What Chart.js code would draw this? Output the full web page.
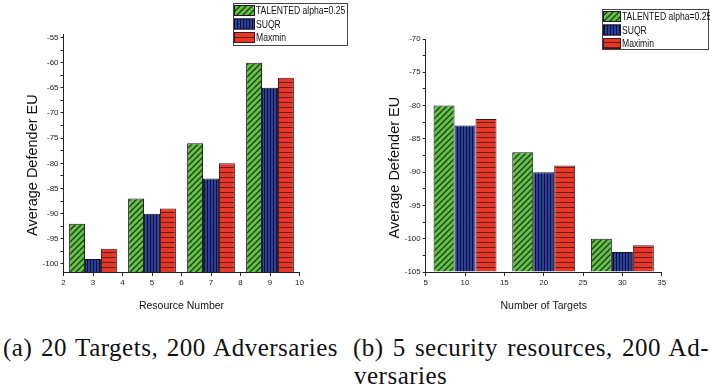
<!DOCTYPE html>
<html>
<head>
<meta charset="utf-8">
<script src="https://cdn.jsdelivr.net/npm/chart.js@4.4.0/dist/chart.umd.min.js"></script>
<style>
  body { margin: 0; background: #fff; width: 710px; height: 392px; overflow: hidden; position: relative; }
  canvas { position: absolute; top: 0; }
  #chartA { left: 0; }
  #chartB { left: 355px; }
  .cap { position: absolute; font-family: "Liberation Serif", serif; font-size: 25px; line-height: 28px; color: #111;
         letter-spacing: 0.5px; text-align: justify; text-align-last: justify; }
</style>
</head>
<body>
<canvas id="chartA" width="355" height="315"></canvas>
<canvas id="chartB" width="355" height="315"></canvas>
<div class="cap" style="left:3px; top:334px; width:335px;">(a) 20 Targets, 200 Adversaries</div>
<div class="cap" style="left:353px; top:334px; width:356px;">(b) 5 security resources, 200 Ad-</div>
<div class="cap" style="left:354px; top:362px; text-align-last:left;">versaries</div>

<script>
// series labels
const labelsA = ['TALENTED alpha=0.25', 'SUQR', 'Maxmin'];
const labelsB = ['TALENTED alpha=0.25', 'SUQR', 'Maximin'];

// (a) 20 targets, x = resource number
const resourceNumbers = [3, 5, 7, 9];
const talentedA = [-92, -87, -76, -60];
const suqrA = [-99, -90, -83, -65];
const maxminA = [-97, -89, -80, -63];

// (b) 5 resources, x = number of targets
const targetCounts = [10, 20, 30];
const talentedB = [-80, -87, -100];
const suqrB = [-83, -90, -102];
const maxminB = [-82, -89, -101];

// axis ranges
const yRangeA = [-101.6, -54.3];
const yRangeB = [-105, -70];
const xRangeA = [2, 10];
const xRangeB = [5, 35];

// narrow font check (falls back to regular sans at a smaller size)
function hasFont(name) {
  const c = document.createElement('canvas').getContext('2d');
  const s = 'Resource Number 0.25';
  c.font = '20px monospace';
  const a = c.measureText(s).width;
  c.font = '20px "' + name + '", monospace';
  return c.measureText(s).width !== a;
}
const narrowOk = hasFont('Liberation Sans Narrow');
const NARROW = narrowOk ? '"Liberation Sans Narrow"' : '"Liberation Sans"';
const k = narrowOk ? 1 : 0.84;

// hatch patterns
function hatch(bg, ink, kind) {
  const t = document.createElement('canvas');
  const n = kind === 'diag' ? 6 : kind === 'vert' ? 3 : 5;
  t.width = n; t.height = n;
  const g = t.getContext('2d');
  g.fillStyle = bg;
  g.fillRect(0, 0, n, n);
  g.strokeStyle = ink;
  g.lineWidth = kind === 'diag' ? 1.3 : 1;
  g.beginPath();
  if (kind === 'diag') {
    g.moveTo(-1, n + 1); g.lineTo(n + 1, -1);
    g.moveTo(-1, 1); g.lineTo(1, -1);
    g.moveTo(n - 1, n + 1); g.lineTo(n + 1, n - 1);
  } else if (kind === 'vert') {
    g.moveTo(0.5, 0); g.lineTo(0.5, n);
  } else {
    g.moveTo(0, 2.5); g.lineTo(n, 2.5);
  }
  g.stroke();
  return g.createPattern(t, 'repeat');
}
const greenFill = hatch('#62c248', '#1f3a14', 'diag');
const blueFill = hatch('#2d3f9e', '#0b1030', 'vert');
const redFill = hatch('#e5382b', '#6b1c12', 'horiz');

// legend with a frame, drawn above the plot
const boxLegend = {
  id: 'boxLegend',
  afterDraw(chart, args, o) {
    const ctx = chart.ctx;
    ctx.save();
    ctx.fillStyle = '#fff';
    ctx.fillRect(o.x, o.y, o.w, o.h);
    ctx.strokeStyle = '#444';
    ctx.lineWidth = 1;
    ctx.strokeRect(o.x + 0.5, o.y + 0.5, o.w - 1, o.h - 1);
    chart.data.datasets.forEach((ds, i) => {
      const cy = o.y + 7.5 + i * 13.5;
      ctx.fillStyle = ds.backgroundColor;
      ctx.fillRect(o.x + 1, cy - 5.5, o.sw, 11);
      ctx.strokeStyle = ds.borderColor;
      ctx.strokeRect(o.x + 1.5, cy - 5, o.sw - 1, 10);
      // squeezed text to look like the narrow face of the original
      ctx.save();
      ctx.translate(o.x + o.sw + o.gap, cy + 0.5);
      ctx.scale(narrowOk ? 1 : 0.78, 1);
      ctx.font = (narrowOk ? 10.5 : 11) + 'px ' + NARROW;
      ctx.textBaseline = 'middle';
      ctx.fillStyle = '#111';
      ctx.fillText(ds.label, 0, 0);
      ctx.restore();
    });
    ctx.restore();
  }
};

function makeSets(labels, xs, series, base) {
  const fills = [greenFill, blueFill, redFill];
  const borders = ['#1a1a1a', '#111122', '#4a1510'];
  return series.map((vals, i) => ({
    label: labels[i],
    data: xs.map((x, j) => ({ x: x, y: vals[j] })),
    base: base,
    backgroundColor: fills[i],
    borderColor: borders[i],
    borderWidth: 1
  }));
}

function axisFont(size) {
  return { family: NARROW, size: size * k };
}

function makeChart(id, opt) {
  return new Chart(document.getElementById(id), {
    type: 'bar',
    data: { datasets: makeSets(opt.labels, opt.xs, opt.series, opt.yRange[0]) },
    plugins: [boxLegend],
    options: {
      responsive: false,
      animation: false,
      events: [],
      categoryPercentage: opt.catPct,
      barPercentage: 1,
      layout: { padding: opt.padding },
      plugins: {
        legend: { display: false },
        tooltip: { enabled: false },
        boxLegend: opt.legend
      },
      scales: {
        x: {
          type: 'linear',
          offset: false,
          min: opt.xRange[0],
          max: opt.xRange[1],
          grid: { offset: false, drawOnChartArea: false, tickLength: 4, color: '#222' },
          border: { color: '#222', width: 1 },
          ticks: { stepSize: opt.xStep, font: axisFont(9.5), color: '#222', padding: 2, maxRotation: 0 },
          title: { display: true, text: opt.xTitle, font: axisFont(12.5), color: '#111', padding: { top: 1.5, bottom: 0 } },
          afterFit(s) { s.height = 40; }
        },
        y: {
          min: opt.yRange[0],
          max: opt.yRange[1],
          grid: { drawOnChartArea: false, tickLength: 3, color: '#222' },
          border: { color: '#222', width: 1 },
          ticks: {
            stepSize: 2.5,
            includeBounds: false,
            font: axisFont(9.5),
            color: '#222',
            padding: 2,
            callback: v => (v % 5 === 0 ? String(v) : '')
          },
          title: {
            display: true,
            text: 'Average Defender EU      ',
            font: { family: '"Liberation Sans", Arial, sans-serif', size: 14.5 },
            color: '#111',
            padding: { top: opt.yTitlePad, bottom: 0 }
          },
          afterFit(s) { s.width = opt.yWidth; }
        }
      }
    }
  });
}

makeChart('chartA', {
  labels: labelsA,
  xs: resourceNumbers,
  series: [talentedA, suqrA, maxminA],
  xRange: xRangeA,
  yRange: yRangeA,
  xStep: 1,
  catPct: 1.62,
  xTitle: 'Resource Number',
  yWidth: 63.5,
  yTitlePad: 24,
  padding: { left: 0, top: 34, right: 55.5, bottom: 3 },
  legend: { x: 233, y: 3, w: 115, h: 43, sw: 21, gap: 2 }
});

makeChart('chartB', {
  labels: labelsB,
  xs: targetCounts,
  series: [talentedB, suqrB, maxminB],
  xRange: xRangeB,
  yRange: yRangeB,
  xStep: 5,
  catPct: 1.6,
  xTitle: 'Number of Targets',
  yWidth: 70.7,
  yTitlePad: 31,
  padding: { left: 0, top: 39, right: 48.3, bottom: 3 },
  legend: { x: 247, y: 9, w: 107, h: 41, sw: 18, gap: 2 }
});
</script>
</body>
</html>
